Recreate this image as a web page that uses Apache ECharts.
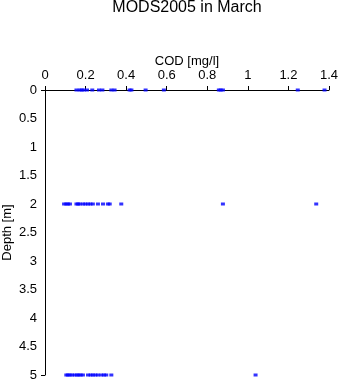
<!DOCTYPE html>
<html>
<head>
<meta charset="utf-8">
<script src="https://cdn.jsdelivr.net/npm/echarts@6/dist/echarts.min.js"></script>
<style>
  html, body { margin: 0; padding: 0; background: #fff; }
  #chart { width: 340px; height: 384px; }
</style>
</head>
<body>
<div id="chart"></div>
<script>
// COD samples (mg/l) at each sampling depth (m)
const depthLevels = [0, 2, 5];
const codAt0m = [0.155, 0.171, 0.181, 0.191, 0.207, 0.233, 0.266, 0.283, 0.327, 0.343,
                 0.417, 0.426, 0.496, 0.586, 0.857, 0.866, 0.877, 1.246, 1.378];
const codAt2m = [0.094, 0.105, 0.113, 0.123, 0.155, 0.163, 0.171, 0.187, 0.199, 0.212,
                 0.224, 0.236, 0.261, 0.286, 0.31, 0.319, 0.376, 0.877, 1.337];
const codAt5m = [0.105, 0.113, 0.122, 0.133, 0.146, 0.158, 0.166, 0.176, 0.187, 0.212,
                 0.225, 0.236, 0.248, 0.261, 0.278, 0.291, 0.302, 0.327, 1.038];
const codTicks = [0, 0.2, 0.4, 0.6, 0.8, 1, 1.2, 1.4];

const samples = [];
[codAt0m, codAt2m, codAt5m].forEach((vals, i) => {
  vals.forEach(v => samples.push([v, depthLevels[i]]));
});

const font = 'Liberation Sans, Arial, sans-serif';
const gridLeft = 45, gridRight = 11;
const chart = echarts.init(document.getElementById('chart'), null, { renderer: 'canvas' });
chart.setOption({
  animation: false,
  backgroundColor: '#ffffff',
  title: {
    text: 'MODS2005 in March',
    // centred over the plot area rather than the whole canvas
    left: gridLeft + (340 - gridLeft - gridRight) / 2,
    textAlign: 'center',
    top: 0,
    padding: [0, 0, 0, 0],
    textStyle: { fontFamily: font, fontSize: 16, fontWeight: 'normal', color: '#000' }
  },
  grid: { left: gridLeft, right: gridRight, top: 90, bottom: 9, containLabel: false, outerBoundsMode: 'none' },
  xAxis: {
    type: 'value',
    position: 'top',
    min: 0,
    max: 1.4,
    interval: 0.2,
    name: 'COD [mg/l]',
    nameLocation: 'middle',
    nameGap: 22,
    nameMoveOverlap: false,
    nameTextStyle: { fontFamily: font, fontSize: 13, color: '#000' },
    axisLine: { show: true, onZero: false, lineStyle: { color: '#000', width: 1 } },
    axisTick: { show: true, length: 4, lineStyle: { color: '#000' } },
    axisLabel: {
      fontFamily: font, fontSize: 13, color: '#000', margin: 8,
      formatter: v => String(codTicks.find(t => Math.abs(t - v) < 1e-9) ?? v)
    },
    splitLine: { show: false }
  },
  yAxis: {
    type: 'value',
    inverse: true,
    min: 0,
    max: 5,
    interval: 0.5,
    name: 'Depth [m]',
    nameLocation: 'middle',
    nameGap: 31,
    nameRotate: 90,
    nameMoveOverlap: false,
    nameTextStyle: { fontFamily: font, fontSize: 13, color: '#000' },
    axisLine: { show: true, onZero: false, lineStyle: { color: '#000', width: 1 } },
    axisTick: { show: true, length: 4, customValues: [0, 5], lineStyle: { color: '#000' } },
    axisLabel: { fontFamily: font, fontSize: 13, color: '#000', margin: 8 },
    splitLine: { show: false }
  },
  series: [{
    type: 'scatter',
    data: samples,
    symbol: 'rect',
    symbolSize: [4, 3],
    itemStyle: { color: '#0000ff' },
    clip: false
  }]
});
</script>
</body>
</html>
